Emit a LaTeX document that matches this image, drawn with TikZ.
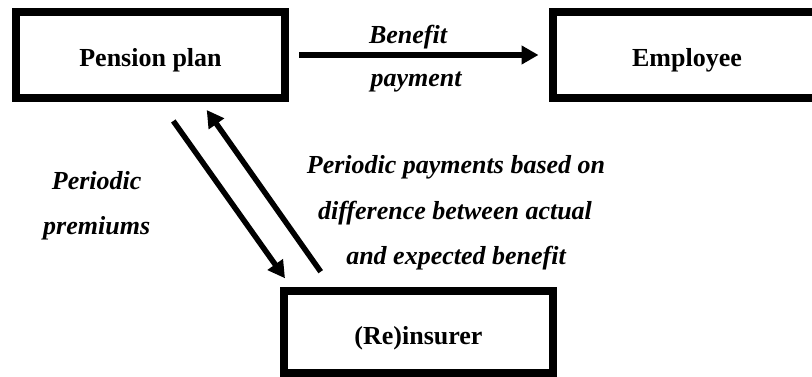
\documentclass[tikz,border=0pt]{standalone}
\usepackage{fontspec}
\setmainfont{Liberation Serif}
\usetikzlibrary{arrows.meta}
\begin{document}
\begin{tikzpicture}[x=1pt,y=-1pt,
  box/.style={draw, line width=8pt, minimum width=269pt, minimum height=86pt, inner sep=0pt,
    text height=24pt, text depth=0pt, font=\fontsize{26}{31}\selectfont\bfseries},
  lbl/.style={font=\fontsize{26}{31}\selectfont\bfseries\itshape, anchor=base, inner sep=0pt},
  flow/.style={line width=5.5pt, -{Triangle[length=17pt,width=18pt]}}
]
\useasboundingbox (0,0) rectangle (812,377);
\begin{scope}
\clip (0,0) rectangle (812,377);
\node[box] (pp) at (150.5,55) {Pension plan};
\node[box, minimum width=268pt] (emp) at (687,55) {Employee};
\node[box, minimum height=82pt] (re) at (418.5,332) {(Re)insurer};

\draw[flow, shorten <=10pt, shorten >=10.5pt] (pp.east) -- (emp.west);
\node[lbl] (lb1) at (408,43.3) {Benefit};
\node[lbl] (lb2) at (416,87) {payment};

\coordinate (p1) at (173.3,121);
\coordinate (p2) at (285,278.3);
\coordinate (q1) at (320.7,271.7);
\coordinate (q2) at (206.7,110);
\draw[flow] (p1) -- (p2);
\draw[flow] (q1) -- (q2);

\node[lbl] (lp1) at (96.7,190) {Periodic};
\node[lbl] (lp2) at (96.7,235) {premiums};

\node[lbl] (lr1) at (456,173.3) {Periodic payments based on};
\node[lbl] (lr2) at (455,220) {difference between actual};
\node[lbl] (lr3) at (456,265) {and expected benefit};
\end{scope}
\end{tikzpicture}
\end{document}
